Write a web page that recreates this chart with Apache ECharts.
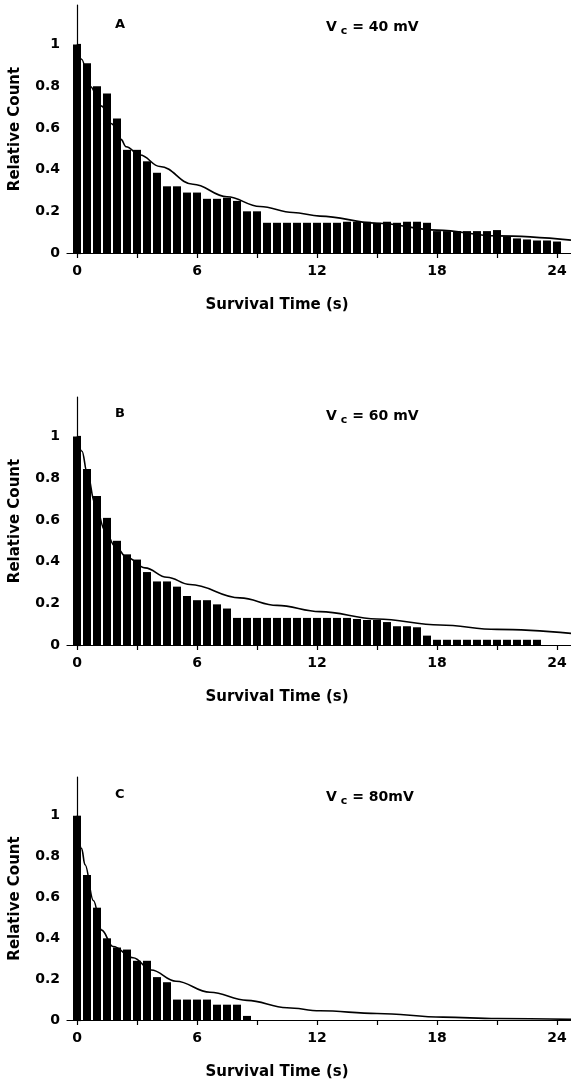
<!DOCTYPE html>
<html><head><meta charset="utf-8">
<script src="https://cdn.jsdelivr.net/npm/echarts@6/dist/echarts.min.js"></script>
<style>html,body{margin:0;padding:0;background:#fff}#c{width:571px;height:1081px}</style>
</head><body><div id="c"></div>
<script>
// bin positions (s), 0.5-s bins
const binTimes = [0,0.5,1,1.5,2,2.5,3,3.5,4,4.5,5,5.5,6,6.5,7,7.5,8,8.5,9,9.5,10,10.5,11,11.5,12,12.5,13,13.5,14,14.5,15,15.5,16,16.5,17,17.5,18,18.5,19,19.5,20,20.5,21,21.5,22,22.5,23,23.5,24];
// relative counts, panel A (Vc = 40 mV)
const countsA = [1.0,0.91,0.80,0.765,0.645,0.495,0.495,0.44,0.385,0.32,0.32,0.29,0.29,0.26,0.26,0.265,0.25,0.20,0.20,0.145,
  0.145,0.145,0.145,0.145,0.145,0.145,0.145,0.15,0.15,0.15,0.145,0.15,0.145,0.15,0.15,0.145,
  0.105,0.105,0.105,0.105,0.105,0.105,0.11,
  0.08,0.07,0.065,0.06,0.06,0.055];
// panel B (Vc = 60 mV)
const countsB = [1.0,0.845,0.715,0.61,0.50,0.435,0.41,0.35,0.305,0.305,0.28,0.235,0.215,0.215,0.195,0.175,
  0.13,0.13,0.13,0.13,0.13,0.13,0.13,0.13,0.13,0.13,0.13,0.13,
  0.125,0.12,0.12,0.11,0.09,0.09,0.085,0.045,
  0.025,0.025,0.025,0.025,0.025,0.025,0.025,0.025,0.025,0.025,0.025,
  0,0];
// panel C (Vc = 80 mV)
const countsC = [1.0,0.71,0.55,0.40,0.355,0.345,0.29,0.29,0.21,0.185,0.10,0.10,0.10,0.10,0.075,0.075,0.075,0.02,
  0,0,0,0,0,0,0,0,0,0,0,0,0,0,0,0,0,0,0,0,0,0,0,0,0,0,0,0,0,0,0];
// fitted curves
const fitTimeA = [0,0.23,0.65,1.23,1.73,2.2,2.45,3.15,4.15,5.8,7.5,9.15,10.8,12.15,15,18,21,24.7];
const fitA     = [1.0,0.93,0.80,0.705,0.62,0.545,0.51,0.47,0.415,0.33,0.27,0.223,0.194,0.177,0.143,0.11,0.082,0.062];
const fitTimeB = [0,0.25,0.5,0.9,1.4,1.9,2.5,3.4,4.5,5.65,8.15,10,12.15,15,18.15,21,24.7];
const fitB     = [1.0,0.93,0.83,0.68,0.55,0.475,0.42,0.37,0.325,0.29,0.226,0.19,0.16,0.125,0.096,0.075,0.056];
const fitTimeC = [0,0.23,0.4,0.82,1.23,1.8,2.8,3.7,4.95,6.65,8.5,10.5,12.15,15,18.3,21,24.7];
const fitC     = [1.0,0.84,0.76,0.585,0.44,0.36,0.305,0.245,0.19,0.136,0.096,0.06,0.045,0.032,0.014,0.007,0.003];

const xTickValues = [0,3,6,9,12,15,18,21,24];
const xLabelValues = [0,6,12,18,24];
const yTickValues = [0,0.2,0.4,0.6,0.8,1];
const panelLetters = ['A','B','C'];
const voltageTexts = [' = 40 mV',' = 60 mV',' = 80mV'];
const xAxisTitle = 'Survival Time (s)';
const yAxisTitle = 'Relative Count';

const counts = [countsA,countsB,countsC];
const fitTimes = [fitTimeA,fitTimeB,fitTimeC];
const fits = [fitA,fitB,fitC];

const FONT = 'DejaVu Sans';
const gridTops = [5,397,777];
const gridH = 248;
const labelY = [[13,13],[402,402],[783,783]];

const chart = echarts.init(document.getElementById('c'), null, {renderer:'canvas'});
const option = {
  backgroundColor:'#fff',
  animation:false,
  title:[], grid:[], xAxis:[], yAxis:[], series:[]
};
for (let i=0;i<3;i++){
  option.grid.push({left:67, top:gridTops[i], width:504, height:gridH, containLabel:false});
  option.xAxis.push({
    type:'value', gridIndex:i, min:-0.5, max:24.7,
    name:xAxisTitle, nameLocation:'middle', nameGap:45,
    nameTextStyle:{fontFamily:FONT,fontSize:15,fontWeight:'bold',color:'#000',padding:[0,84,0,0]},
    axisLine:{show:true,onZero:false,lineStyle:{color:'#000',width:1.2}},
    axisTick:{show:true,inside:false,length:5,customValues:xTickValues,lineStyle:{color:'#000',width:1.2}},
    axisLabel:{show:true,customValues:xLabelValues,margin:11,fontFamily:FONT,fontSize:14,fontWeight:'bold',color:'#000'},
    splitLine:{show:false}
  });
  option.yAxis.push({
    type:'value', gridIndex:i, min:0, max:1.19,
    name:yAxisTitle, nameLocation:'middle', nameGap:44,
    nameTextStyle:{fontFamily:FONT,fontSize:15,fontWeight:'bold',color:'#000'},
    axisLine:{show:true,lineStyle:{color:'#000',width:1.2}},
    axisTick:{show:true,inside:true,length:4,customValues:yTickValues,lineStyle:{color:'#000',width:1.2}},
    axisLabel:{show:true,customValues:yTickValues,margin:7,fontFamily:FONT,fontSize:14,fontWeight:'bold',color:'#000',
      formatter:v=> (v===0?'0':(v===1?'1':v.toFixed(1)))},
    splitLine:{show:false}
  });
  option.series.push({
    type:'bar', xAxisIndex:i, yAxisIndex:i, barWidth:8,
    itemStyle:{color:'#000'},
    data: binTimes.map((t,k)=>[t,counts[i][k]])
  });
  option.series.push({
    type:'line', xAxisIndex:i, yAxisIndex:i, smooth:0.4, smoothMonotone:'x', symbol:'none',
    lineStyle:{color:'#000',width:1.6}, z:5,
    data: fitTimes[i].map((t,k)=>[t,fits[i][k]])
  });
  option.title.push({
    text:panelLetters[i], left:110, top:labelY[i][0],
    textStyle:{fontFamily:FONT,fontSize:13,fontWeight:'bold',color:'#000'}
  });
  option.title.push({
    text:'{v|V}{s|c}{v|'+voltageTexts[i]+'}', left:321, top:labelY[i][1],
    textStyle:{rich:{
      v:{fontFamily:FONT,fontSize:14,fontWeight:'bold',color:'#000',lineHeight:18},
      s:{fontFamily:FONT,fontSize:11,fontWeight:'bold',color:'#000',padding:[9,0,0,4],lineHeight:18}
    }}
  });
}
chart.setOption(option);
</script>
</body></html>
